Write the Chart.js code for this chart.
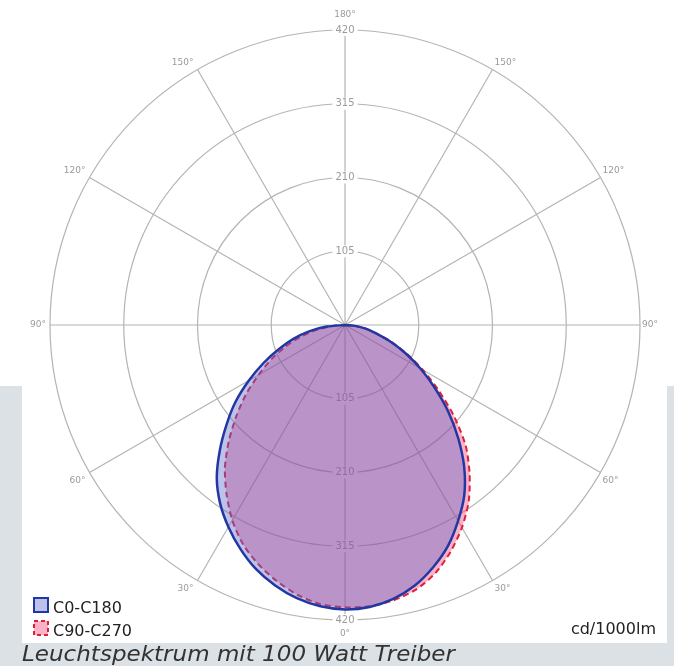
<!DOCTYPE html>
<html><head><meta charset="utf-8">
<script src="https://cdn.jsdelivr.net/npm/chart.js@4"></script>
<style>html,body{margin:0;padding:0;background:#fff;overflow:hidden}canvas{display:block}</style>
</head><body>
<canvas id="c" width="674" height="666"></canvas>
<script>
// Gamma angles (deg from nadir) for each half-plane
const gammaAngles = [0,5,10,15,20,25,30,35,40,45,50,55,60,65,70,75,80,85,90];
// C0-C180 (blue): right half = C0, left half = C180   [cd/1000lm]
const c0   = [405,403,396,384,367,347,322,296,264,228,192,156,124,95,68,45,30,14,0];
const c180 = [405,402,395,384,370,352,332,310,284,252,220,190,158,128,100,76,52,26,0];
// C90-C270 (red dashed): right half = C90, left half = C270
const c90  = [402,402,398,390,376,356,333,307,276,243,203,163,128,97,70,46,30,14,0];
const c270 = [402,399,390,377,362,344,321,294,266,234,202,172,142,116,90,66,42,18,0];
const tickValues = [105,210,315,420];
const angleLabels = [0,30,60,90,120,150,180];
const seriesNames = ['C0-C180','C90-C270'];
const unitLabel = 'cd/1000lm';
const captionText = 'Leuchtspektrum mit 100 Watt Treiber';

const STEP = 5;
const labels = [];
for (let p = 0; p < 360; p += STEP) labels.push(p);
function toRadar(rightHalf, leftHalf) {
  return labels.map(phi => {
    if (phi >= 90 && phi <= 180) return rightHalf[gammaAngles.indexOf(180 - phi)];
    if (phi > 180 && phi <= 270) return leftHalf[gammaAngles.indexOf(phi - 180)];
    return 0;
  });
}

const BLUE = '#2337a2', BLUE_FILL = 'rgba(88,102,202,0.4)';
const RED = '#e01f3d', RED_FILL = 'rgba(246,35,92,0.35)';
const GRID = '#b4b4b4';

const decor = {
  id: 'decor',
  beforeDraw(chart) {
    const ctx = chart.ctx;
    ctx.save();
    ctx.fillStyle = '#ffffff'; ctx.fillRect(0, 0, 674, 666);
    ctx.fillStyle = '#dce1e5'; ctx.fillRect(0, 386, 674, 280);
    ctx.fillStyle = '#ffffff'; ctx.fillRect(22, 0, 645, 643);
    ctx.restore();
  },
  beforeDatasetsDraw(chart) {
    const s = chart.scales.r, ctx = chart.ctx;
    ctx.save();
    ctx.font = '10px "DejaVu Sans"';
    ctx.textAlign = 'center'; ctx.textBaseline = 'middle';
    tickValues.forEach(v => {
      const d = s.getDistanceFromCenterForValue(v);
      const t = String(v), w = ctx.measureText(t).width;
      [-1, 1].forEach(sg => {
        const y = s.yCenter + sg * d;
        ctx.fillStyle = '#ffffff';
        ctx.fillRect(s.xCenter - w / 2 - 3, y - 6, w + 6, 12);
        ctx.fillStyle = '#9a9a9a';
        ctx.fillText(t, s.xCenter, y);
      });
    });
    ctx.font = '9px "DejaVu Sans"';
    ctx.fillStyle = '#9a9a9a';
    angleLabels.forEach(g => {
      const txt = g + '°';
      if (g === 0 || g === 180) {
        const p = s.getPointPosition((180 - g) / STEP, s.drawingArea);
        ctx.textAlign = 'center';
        ctx.fillText(txt, p.x, g === 180 ? p.y - 15 : p.y + 14);
        return;
      }
      const dy = g > 90 ? -7 : (g < 90 ? 8 : 0);
      const pr = s.getPointPosition((180 - g) / STEP, s.drawingArea);
      ctx.textAlign = 'left';
      ctx.fillText(txt, pr.x + 2, pr.y + dy);
      const pl = s.getPointPosition((180 + g) / STEP, s.drawingArea);
      ctx.textAlign = 'right';
      ctx.fillText(txt, pl.x - 4, pl.y + dy);
    });
    ctx.restore();
  },
  afterDraw(chart) {
    const ctx = chart.ctx;
    ctx.save();
    const ds = chart.data.datasets;
    const rows = [598, 621];
    ds.forEach((d, i) => {
      const y = rows[i];
      ctx.fillStyle = '#ffffff'; ctx.fillRect(34, y, 14, 14);
      ctx.fillStyle = d.backgroundColor; ctx.fillRect(34, y, 14, 14);
      ctx.strokeStyle = d.borderColor; ctx.lineWidth = 2;
      ctx.setLineDash(d.borderDash ? [4, 3] : []);
      ctx.strokeRect(34, y, 14, 14);
      ctx.setLineDash([]);
      ctx.fillStyle = '#222';
      ctx.font = '16px "DejaVu Sans"';
      ctx.textAlign = 'left'; ctx.textBaseline = 'alphabetic';
      ctx.fillText(d.label, 53, y + 15);
    });
    ctx.textAlign = 'right';
    ctx.fillText(unitLabel, 656, 634);
    ctx.font = 'italic 21px "DejaVu Sans"';
    ctx.fillStyle = '#333';
    ctx.textAlign = 'left';
    const w = ctx.measureText(captionText).width;
    ctx.translate(22, 661);
    ctx.scale(433 / w, 1);
    ctx.fillText(captionText, 0, 0);
    ctx.restore();
  }
};

new Chart(document.getElementById('c'), {
  type: 'radar',
  data: {
    labels: labels,
    datasets: [
      { label: seriesNames[0], data: toRadar(c0, c180), borderColor: BLUE, backgroundColor: BLUE_FILL,
        borderWidth: 2.5, fill: true, tension: 0.25, pointRadius: 0 },
      { label: seriesNames[1], data: toRadar(c90, c270), borderColor: RED, backgroundColor: RED_FILL,
        borderWidth: 2, borderDash: [6, 4], fill: true, tension: 0.25, pointRadius: 0 }
    ]
  },
  options: {
    responsive: false,
    animation: false,
    layout: { padding: { left: 50, right: 34, top: 30, bottom: 46 } },
    plugins: { legend: { display: false }, tooltip: { enabled: false }, title: { display: false } },
    scales: {
      r: {
        min: 0, max: 420,
        ticks: { display: false, stepSize: 105 },
        pointLabels: { display: false },
        grid: { circular: true, color: GRID, lineWidth: 1.2 },
        angleLines: { color: GRID, lineWidth: ctx => (ctx.index % 6 === 0 ? 1.2 : 0) }
      }
    }
  },
  plugins: [decor]
});
</script>
</body></html>
